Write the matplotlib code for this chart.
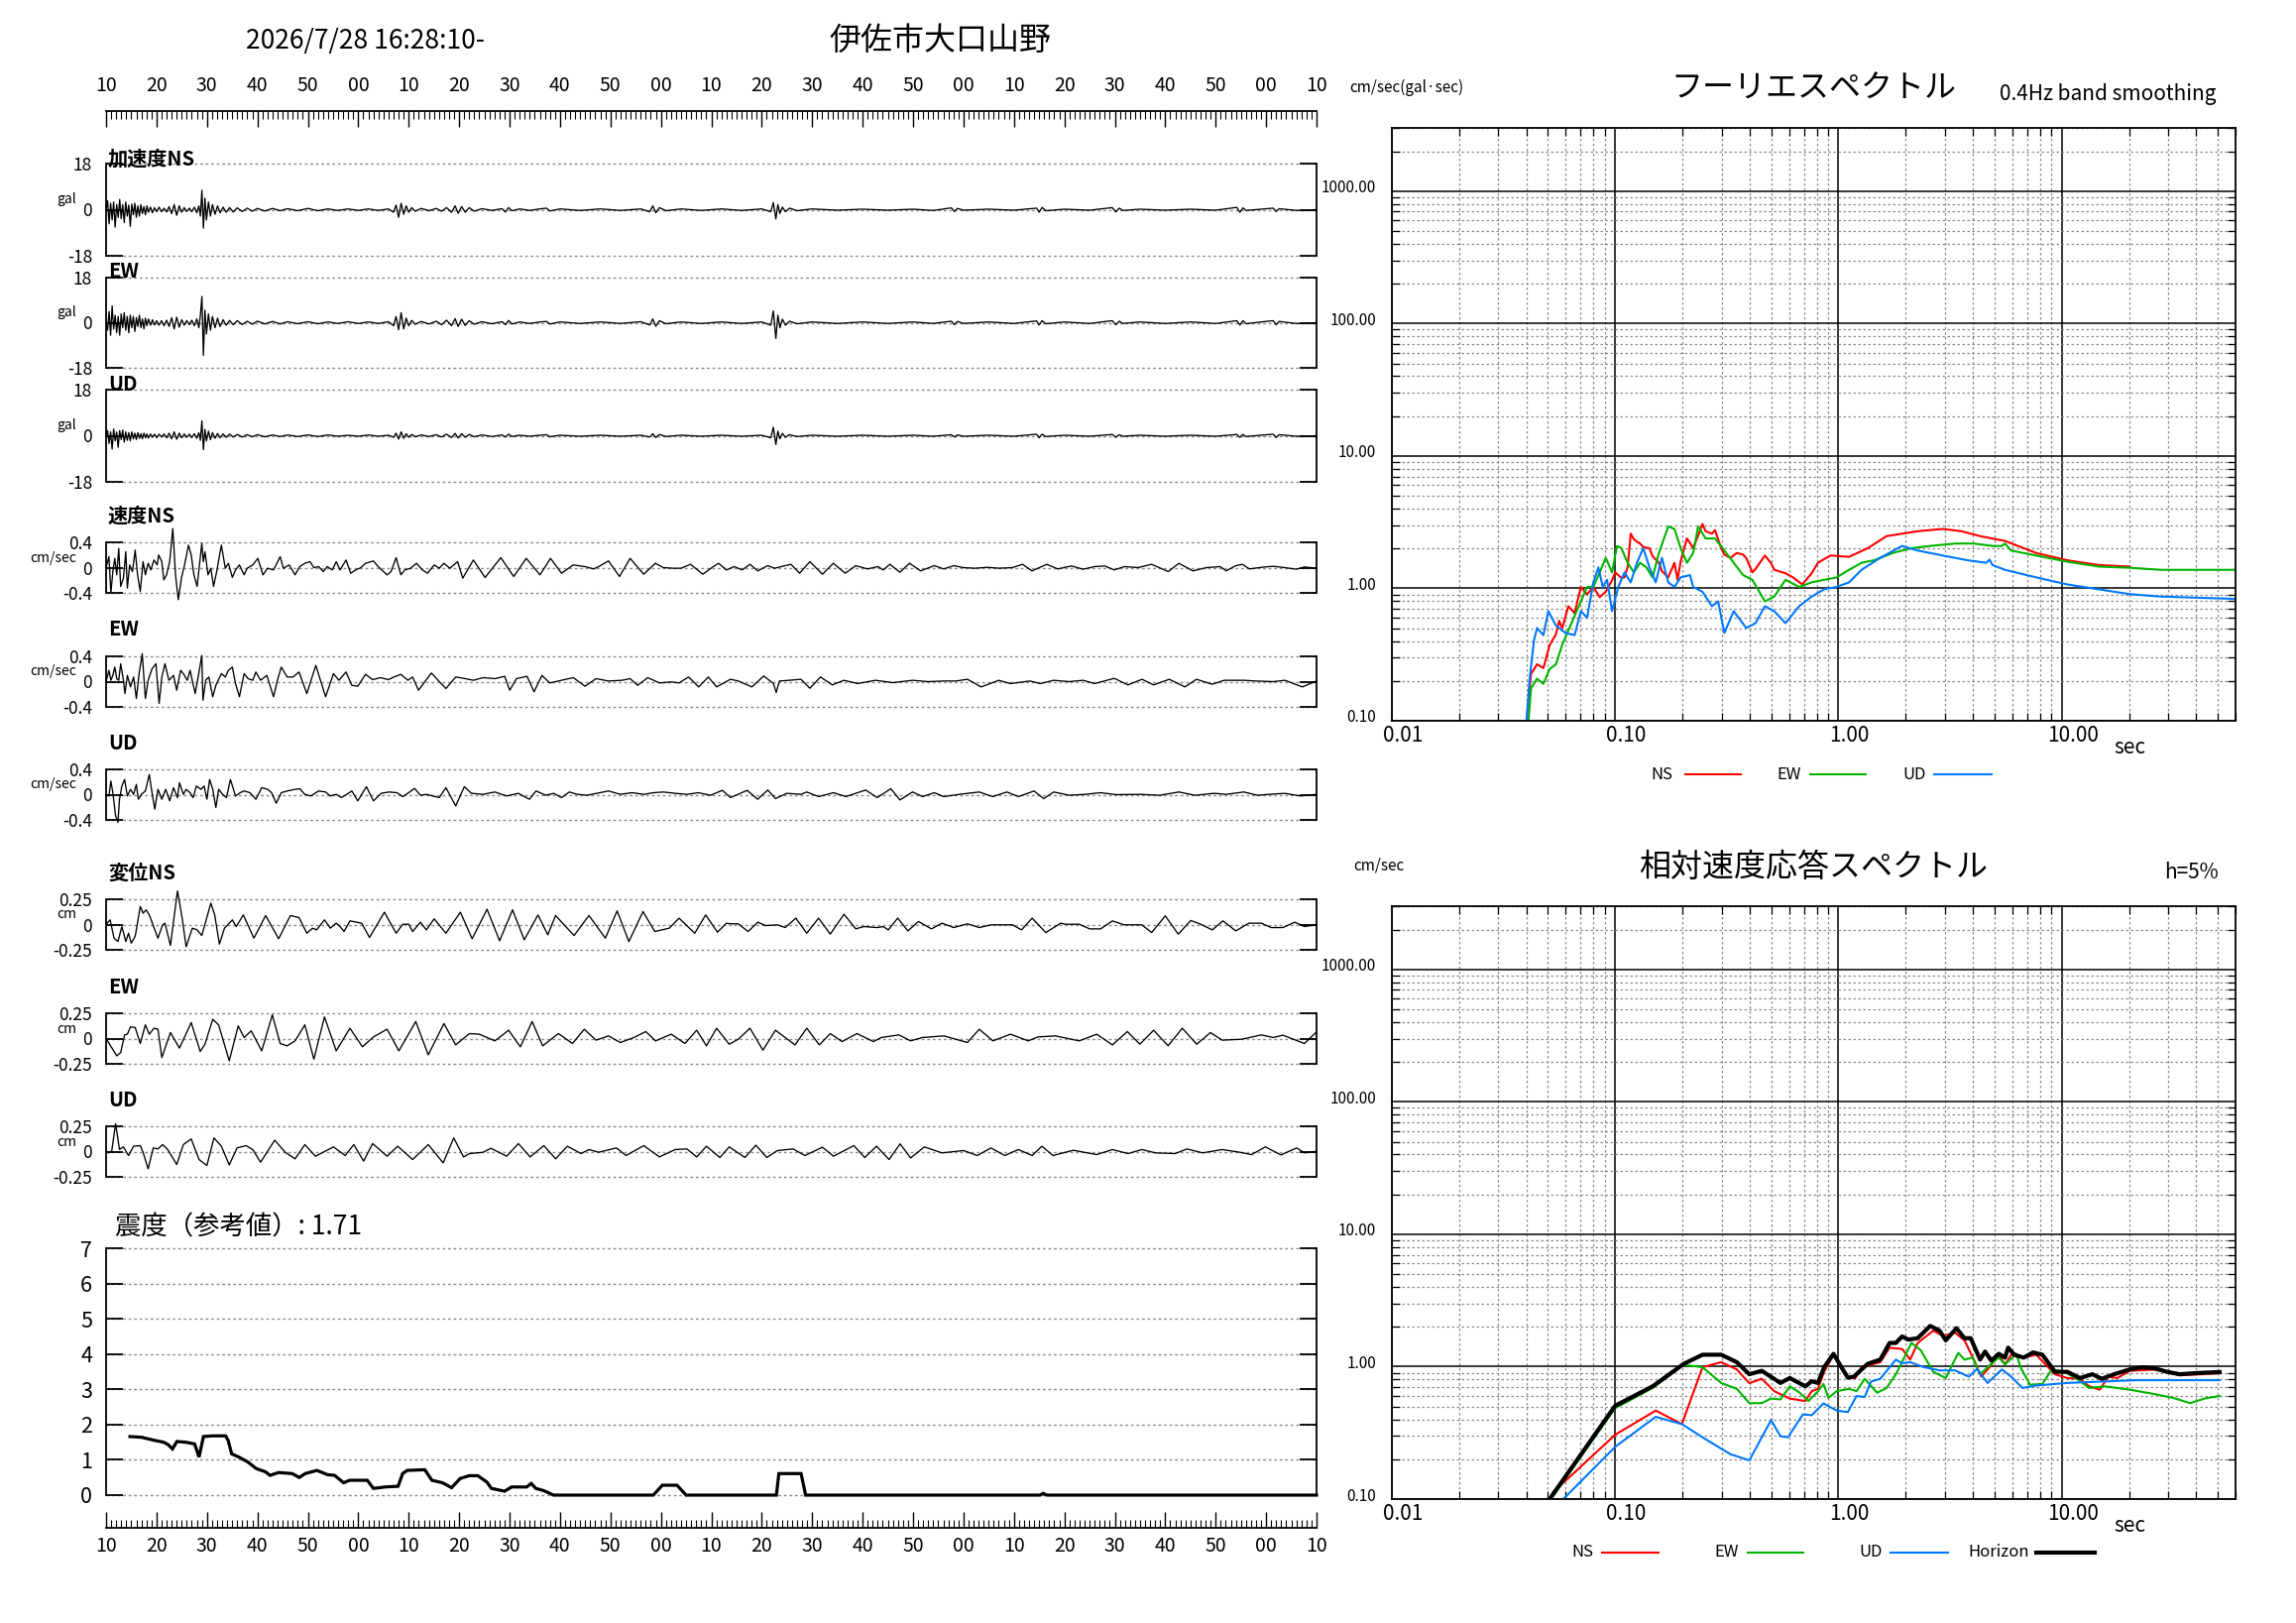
import numpy as np
import matplotlib
matplotlib.use("Agg")
import matplotlib.pyplot as plt
from matplotlib.lines import Line2D
from matplotlib.ticker import FixedLocator, LogLocator, NullFormatter
from matplotlib.transforms import ScaledTranslation

plt.rcParams['font.family'] = ['Noto Sans CJK JP', 'DejaVu Sans']

# ---------------- data ----------------
station = "伊佐市大口山野"
start_time = "2026/7/28 16:28:10-"
shindo_text = "震度（参考値）: 1.71"

# acceleration (gal), shared time base in seconds from 16:28:10
acc_t = [0.0, 0.3, 0.6, 0.9, 1.2, 1.5, 1.8, 2.1, 2.4, 2.7, 3.0, 3.3, 3.6, 3.9, 4.2, 4.5, 4.8, 5.1, 5.4, 5.7,
         6.0, 6.3, 6.6, 6.9, 7.2, 7.5, 7.8, 8.1, 8.4,
         8.8, 9.2, 9.6, 10.0,
         10.5, 11.0, 11.5, 12.0, 12.5, 13.0, 13.5, 14.0, 14.5, 15.0, 15.5, 16.0, 16.5, 17.0, 17.5, 18.0,
         18.4, 18.7, 19.0, 19.3, 19.6, 19.9,
         20.3, 20.7, 21.1, 21.6, 22.1, 22.6, 23.2, 23.8, 24.5, 25.2, 26.0,
         27.0, 28.0, 29.0, 30.0,
         31.5, 33.0, 34.5, 36.0,
         38.0, 40.0, 42.0, 44.0, 46.0, 48.0, 50.0, 52.0, 54.0, 56.0,
         57.0, 57.5, 58.0, 58.5, 59.0, 59.5, 60.0,
         60.6, 61.3, 62.5, 64.0, 65.5,
         66.5, 67.5, 68.5, 69.2, 69.8, 70.5, 71.2, 72.0, 73.0, 74.5,
         76.5, 78.5, 79.2, 79.8, 80.5, 82.0, 84.0, 86.0,
         87.3, 88.0, 90.0,
         94.0, 98.0, 102.0, 106.0,
         107.8, 108.4, 109.0, 109.7, 111.0,
         114.0, 118.0, 122.0, 126.0, 130.0,
         131.8, 132.3, 132.8, 133.2, 133.6, 134.1, 134.7, 135.5, 137.0,
         140.0, 145.0, 150.0, 155.0, 160.0, 164.0,
         167.6, 168.2, 168.8, 170.0,
         175.0, 180.0,
         184.5, 185.0, 185.6, 186.3,
         190.0, 195.0,
         199.5, 200.2, 200.9, 201.6,
         205.0, 210.0, 215.0, 220.0,
         224.2, 224.8, 225.4, 226.0,
         229.0,
         231.4, 232.0, 232.6,
         236.0, 240.0]

acc_ns = [0, 3.5, -5.5, 2.5, -4.0, 3.0, -6.8, 2.0, -3.0, 4.0, -3.5, 2.0, -5.0, 3.0, -2.5, 1.8, -6.5, 2.2, -2.0, 2.5,
          -3.0, 1.5, -2.5, 2.0, -1.5, 1.2, -2.0, 1.5, -1.0,
          1.0, -1.2, 0.8, -0.8,
          1.0, -0.8, 0.6, -0.9, 1.2, -1.5, 2.0, -2.2, 1.5, -1.0, 0.8, -0.7, 0.6, -0.8, 1.0, -1.2,
          1.5, -2.5, 7.6, -7.2, 4.5, -4.0,
          3.0, -2.5, 2.0, -1.8, 1.5, -1.2, 1.0, -1.0, 0.8, -0.9, 0.7,
          -0.7, 0.6, -0.6, 0.5,
          -0.5, 0.5, -0.4, 0.4,
          -0.4, 0.5, -0.4, 0.3, -0.3, 0.3, -0.3, 0.3, -0.3, 0.3,
          -1.0, 1.8, -3.0, 2.5, -1.8, 1.5, -1.0,
          0.8, -0.6, 0.5, -0.4, 0.5,
          -0.6, 0.8, -1.0, 1.5, -1.4, 1.2, -1.0, 0.8, -0.6, 0.4,
          -0.3, 0.4, -0.9, 0.8, -0.4, 0.3, -0.3, 0.3,
          0.6, -0.5, 0.3,
          -0.3, 0.3, -0.3, 0.3,
          -0.8, 1.5, -1.2, 0.8, -0.4,
          0.3, -0.3, 0.3, -0.3, 0.3,
          -0.8, 2.8, -3.6, 2.0, -1.5, 1.0, -0.8, 0.6, -0.4,
          0.3, -0.2, 0.2, -0.2, 0.2, -0.3,
          0.7, -0.7, 0.5, -0.2,
          0.2, -0.2,
          0.6, -1.0, 0.9, -0.4,
          0.2, -0.2,
          0.8, -0.9, 0.6, -0.3,
          0.2, -0.2, 0.2, -0.2,
          0.9, -1.0, 0.7, -0.3,
          0.2,
          0.6, -0.7, 0.4,
          -0.3, 0.0]

acc_ew = [0, -3.0, 4.5, -5.0, 6.7, -2.5, 3.0, -4.0, 2.5, -5.0, 3.5, -2.0, 4.0, -3.0, 2.5, -4.0, 3.0, -2.0, 2.5, -3.5,
          2.0, -1.5, 3.0, -2.0, 1.5, -2.5, 1.8, -1.2, 1.5,
          -1.0, 1.2, -0.9, 0.8,
          -1.0, 0.8, -1.2, 1.0, -1.5, 2.0, -2.5, 2.2, -1.8, 1.2, -1.0, 0.9, -0.8, 1.0, -1.2, 1.5,
          -2.0, 3.0, 10.5, -13.0, 5.0, -4.5,
          3.5, -3.0, 2.5, -2.0, 1.8, -1.5, 1.2, -1.0, 0.9, -0.8, 0.8,
          -0.7, 0.6, -0.6, 0.6,
          -0.5, 0.5, -0.5, 0.4,
          -0.4, 0.4, -0.4, 0.3, -0.3, 0.4, -0.3, 0.3, -0.3, 0.4,
          -1.2, 2.5, -2.8, 4.0, -2.5, 1.8, -1.2,
          0.9, -0.6, 0.5, -0.5, 0.6,
          -0.8, 1.0, -1.2, 1.6, -1.5, 1.4, -1.1, 0.8, -0.6, 0.4,
          -0.4, 0.4, -0.8, 0.9, -0.5, 0.3, -0.3, 0.3,
          0.5, -0.5, 0.3,
          -0.3, 0.3, -0.3, 0.4,
          -0.9, 1.5, -1.4, 0.8, -0.4,
          0.3, -0.3, 0.3, -0.3, 0.3,
          -1.0, 4.7, -6.3, 3.0, -2.0, 1.4, -1.0, 0.6, -0.4,
          0.3, -0.3, 0.3, -0.3, 0.3, -0.3,
          0.6, -0.8, 0.5, -0.3,
          0.3, -0.3,
          0.7, -0.9, 0.8, -0.4,
          0.3, -0.3,
          0.8, -0.8, 0.6, -0.3,
          0.3, -0.3, 0.3, -0.3,
          0.8, -0.9, 0.8, -0.4,
          0.3,
          0.8, -0.8, 0.5,
          -0.3, 0.0]

acc_ud = [0, 2.0, -3.0, 1.5, -5.2, 2.6, -2.0, 1.5, -4.5, 2.0, -1.5, 2.2, -2.5, 1.5, -1.8, 1.2, -2.0, 1.5, -1.2, 1.0,
          -1.5, 1.2, -1.0, 0.8, -1.2, 1.0, -0.8, 0.7, -0.9,
          0.7, -0.6, 0.6, -0.7,
          0.6, -0.5, 0.7, -0.8, 1.0, -1.2, 1.5, -1.4, 1.0, -0.8, 0.7, -0.6, 0.6, -0.7, 0.8, -1.0,
          1.2, -1.8, 5.8, -5.4, 2.5, -2.0,
          1.8, -1.5, 1.2, -1.0, 0.9, -0.8, 0.7, -0.6, 0.6, -0.5, 0.5,
          -0.5, 0.4, -0.4, 0.4,
          -0.4, 0.3, -0.3, 0.3,
          -0.3, 0.3, -0.3, 0.3, -0.2, 0.2, -0.2, 0.3, -0.2, 0.2,
          -0.6, 1.0, -1.3, 1.5, -1.0, 0.8, -0.6,
          0.5, -0.4, 0.3, -0.3, 0.4,
          -0.5, 0.6, -0.7, 0.9, -0.9, 0.8, -0.6, 0.5, -0.4, 0.3,
          -0.3, 0.3, -0.5, 0.6, -0.3, 0.2, -0.2, 0.2,
          0.4, -0.4, 0.2,
          -0.2, 0.2, -0.2, 0.2,
          -0.5, 0.8, -0.7, 0.5, -0.3,
          0.2, -0.2, 0.2, -0.2, 0.2,
          -0.8, 3.3, -3.4, 1.8, -1.2, 0.9, -0.6, 0.4, -0.3,
          0.2, -0.2, 0.2, -0.2, 0.2, -0.2,
          0.4, -0.5, 0.3, -0.2,
          0.2, -0.2,
          0.6, -0.8, 0.6, -0.3,
          0.2, -0.2,
          0.5, -0.6, 0.4, -0.2,
          0.2, -0.2, 0.2, -0.2,
          0.5, -0.6, 0.5, -0.3,
          0.2,
          0.6, -0.7, 0.4,
          -0.2, 0.0]

# velocity (cm/sec): (seconds, value)
vel_ns = [(0.0, 0.0), (0.57, 0.173), (0.95, -0.403), (1.34, -0.063), (1.73, 0.146), (2.12, -0.115), (2.51, 0.303),
          (2.9, -0.298), (3.44, -0.167), (3.91, 0.251), (4.22, -0.324), (4.68, 0.042), (5.23, -0.063), (5.77, 0.277),
          (6.24, -0.115), (6.78, -0.377), (7.33, 0.094), (7.79, -0.115), (8.34, 0.068), (8.88, -0.037), (9.5, 0.12),
          (10.12, 0.042), (10.43, 0.199), (11.05, 0.094), (11.44, -0.194), (11.99, -0.115), (12.61, 0.094),
          (13.23, 0.617), (13.77, -0.115), (14.32, -0.507), (14.94, -0.167), (15.56, 0.042), (16.34, 0.356),
          (16.88, 0.199), (17.42, -0.115), (18.05, -0.298), (18.67, 0.146), (18.98, 0.382), (19.29, 0.094),
          (19.6, 0.251), (20.22, -0.115), (20.77, -0.01), (21.31, -0.298), (21.93, -0.063), (22.86, 0.356),
          (23.64, -0.01), (24.26, 0.068), (25.04, -0.157), (25.66, -0.037), (26.44, 0.042), (27.37, -0.115),
          (27.99, -0.01), (29.08, 0.042), (30.09, 0.146), (31.1, -0.115), (32.03, -0.01), (33.2, -0.037),
          (34.52, 0.173), (35.14, -0.01), (36.3, 0.042), (37.47, -0.115), (38.4, 0.016), (39.41, 0.068),
          (40.42, 0.094), (41.2, 0.0), (42.13, 0.016), (43.06, -0.063), (43.84, 0.016), (44.85, -0.037),
          (45.63, 0.094), (46.4, -0.037), (47.57, 0.12), (48.5, -0.089), (49.51, -0.037), (50.52, 0.0),
          (51.45, 0.068), (53.0, 0.105), (53.94, 0.016), (55.72, -0.115), (56.5, -0.063), (57.51, 0.157),
          (58.45, -0.115), (59.22, -0.037), (60.39, -0.01), (61.55, 0.068), (62.72, -0.037), (63.73, -0.089),
          (65.05, 0.042), (66.06, -0.01), (66.99, 0.068), (68.16, -0.01), (68.93, 0.042), (69.71, 0.094),
          (70.72, -0.167), (72.82, 0.12), (75.15, -0.157), (78.26, 0.157), (80.82, -0.141), (83.31, 0.146),
          (86.03, -0.115), (88.12, 0.146), (90.3, -0.089), (92.63, 0.042), (94.96, 0.016), (96.67, -0.021),
          (97.68, 0.016), (99.62, 0.105), (101.8, -0.141), (103.9, 0.146), (106.6, -0.105), (108.9, 0.068),
          (110.5, 0.0), (112.4, -0.01), (114.0, -0.01), (115.9, 0.052), (118.3, -0.105), (120.4, 0.016),
          (121.45, 0.068), (123.0, -0.037), (124.56, 0.016), (126.1, -0.037), (127.67, 0.052), (129.22, -0.052),
          (131.16, 0.031), (132.56, -0.01), (133.88, 0.016), (135.8, 0.052), (137.5, -0.089), (139.55, 0.094),
          (142.04, -0.105), (144.2, 0.068), (146.55, -0.089), (148.64, 0.031), (150.97, -0.021), (153.07, 0.016),
          (154.08, -0.037), (155.4, 0.052), (157.4, -0.073), (159.3, 0.068), (161.5, -0.052), (164.2, 0.031),
          (166.1, -0.021), (168.1, 0.031), (170.0, 0.0), (172.3, -0.01), (174.7, 0.005), (177.0, -0.01),
          (179.7, 0.0), (181.7, 0.052), (183.6, -0.052), (186.5, 0.052), (188.7, -0.021), (191.4, 0.026),
          (193.7, -0.026), (196.0, 0.016), (198.0, 0.026), (199.9, -0.037), (201.9, 0.016), (204.6, 0.0),
          (207.3, 0.052), (210.6, -0.063), (212.7, 0.068), (215.5, -0.052), (218.2, 0.0), (220.9, 0.016),
          (222.1, -0.052), (224.0, 0.031), (225.3, 0.052), (226.7, -0.021), (229.1, 0.005), (231.4, 0.021),
          (233.7, 0.0), (236.0, -0.026), (237.6, 0.01), (240.0, -0.01)]

vel_ew = [(0.0, 0.0), (0.57, 0.178), (0.95, 0.021), (1.34, 0.099), (1.73, 0.23), (2.12, 0.047), (2.51, 0.021),
          (2.9, 0.282), (3.44, 0.021), (3.75, -0.188), (4.22, 0.099), (4.84, -0.084), (5.46, 0.073), (6.0, -0.267),
          (6.55, 0.126), (7.17, 0.44), (7.79, -0.267), (8.34, 0.021), (9.11, 0.204), (9.89, 0.282), (10.51, -0.345),
          (11.05, 0.073), (11.68, 0.282), (12.45, 0.021), (13.38, 0.099), (14.0, -0.136), (14.78, 0.178),
          (15.33, 0.126), (16.1, 0.021), (16.65, 0.178), (17.66, -0.188), (18.2, 0.047), (18.98, 0.413),
          (19.21, -0.293), (19.75, 0.021), (20.38, 0.073), (21.15, -0.24), (21.77, -0.058), (22.86, 0.126),
          (23.64, 0.073), (24.26, 0.178), (25.04, 0.23), (25.66, -0.031), (26.44, -0.24), (27.37, 0.126),
          (28.15, 0.047), (29.08, 0.021), (29.7, 0.152), (30.63, 0.021), (31.88, 0.099), (33.2, -0.24),
          (33.97, 0.021), (34.75, 0.23), (35.91, 0.073), (37.08, 0.073), (38.25, 0.152), (39.8, -0.188),
          (41.59, 0.256), (43.53, -0.24), (45.08, 0.126), (46.17, 0.021), (47.57, 0.152), (48.73, -0.058),
          (49.9, -0.073), (51.45, 0.115), (52.85, 0.031), (54.4, 0.063), (55.96, 0.031), (57.05, 0.073),
          (58.45, 0.115), (59.84, 0.021), (60.78, 0.073), (61.94, -0.136), (64.5, 0.136), (65.83, 0.021),
          (67.38, -0.11), (69.32, 0.073), (71.26, 0.047), (72.82, 0.021), (74.76, 0.063), (77.09, 0.047),
          (79.03, 0.084), (80.04, -0.136), (81.36, 0.047), (83.46, 0.084), (84.86, -0.162), (86.41, 0.099),
          (87.97, -0.021), (90.3, 0.021), (92.63, 0.063), (94.96, -0.073), (97.14, 0.047), (99.62, 0.01),
          (102.3, 0.021), (103.9, 0.047), (105.4, -0.058), (107.4, 0.063), (109.7, -0.021), (112.1, -0.005),
          (113.6, -0.021), (115.5, 0.073), (117.5, -0.084), (119.4, 0.073), (121.06, -0.084), (123.78, 0.037),
          (125.34, 0.01), (128.05, -0.084), (130.39, 0.089), (132.33, -0.031), (132.87, -0.173), (133.5, 0.01),
          (135.44, 0.021), (137.77, 0.037), (139.55, -0.105), (141.65, 0.073), (143.98, -0.052), (146.31, 0.021),
          (149.03, -0.031), (152.53, 0.021), (156.0, -0.016), (159.9, 0.021), (163.0, 0.0), (166.1, 0.01),
          (168.5, 0.01), (170.8, 0.037), (173.5, -0.084), (177.0, 0.021), (179.3, -0.031), (183.2, 0.01),
          (185.2, -0.031), (187.9, 0.021), (191.0, 0.0), (193.7, 0.021), (196.0, -0.031), (199.9, 0.052),
          (202.6, -0.052), (205.4, 0.037), (207.7, -0.052), (210.8, 0.037), (213.9, -0.084), (216.2, 0.037),
          (219.3, -0.042), (221.7, 0.021), (225.6, 0.021), (227.9, 0.01), (231.4, 0.0), (233.7, 0.021),
          (237.2, -0.084), (240.0, 0.01)]

vel_ud = [(0.0, 0.0), (0.57, -0.021), (0.95, 0.214), (1.34, 0.031), (1.89, -0.335), (2.35, -0.44), (2.66, -0.073),
          (3.13, 0.136), (3.67, 0.24), (4.22, -0.021), (4.84, 0.084), (5.46, 0.005), (6.0, 0.162), (6.39, -0.073),
          (7.01, 0.005), (7.79, 0.058), (8.57, 0.319), (9.11, 0.031), (9.66, -0.23), (10.28, 0.084), (11.05, -0.073),
          (11.83, 0.084), (12.61, -0.099), (13.38, 0.11), (14.16, -0.047), (14.55, 0.188), (15.33, 0.005),
          (15.87, 0.084), (16.65, 0.031), (17.27, -0.047), (17.89, 0.136), (18.82, 0.084), (19.44, 0.136),
          (19.99, -0.073), (20.53, 0.24), (21.15, 0.084), (21.77, -0.204), (22.32, 0.084), (23.1, 0.005),
          (23.87, -0.047), (24.65, 0.24), (25.66, -0.021), (26.59, 0.031), (27.37, 0.058), (28.53, 0.031),
          (29.7, -0.073), (30.86, 0.11), (32.03, 0.084), (32.81, 0.031), (33.74, -0.136), (34.75, 0.031),
          (35.91, 0.058), (37.47, 0.084), (38.4, 0.094), (39.41, 0.005), (40.58, -0.021), (42.13, 0.058),
          (43.53, 0.042), (44.46, -0.021), (45.63, 0.005), (46.64, -0.047), (47.72, 0.005), (48.73, 0.058),
          (49.9, -0.099), (51.61, 0.126), (53.01, -0.099), (54.56, 0.021), (56.11, 0.042), (57.67, 0.031),
          (58.83, -0.031), (60.0, 0.031), (61.16, 0.099), (62.33, -0.01), (63.49, 0.005), (64.82, -0.021),
          (66.06, -0.047), (67.38, 0.11), (69.32, -0.178), (71.03, 0.126), (72.43, 0.021), (74.76, 0.005),
          (77.09, 0.042), (79.42, -0.021), (81.75, 0.021), (83.93, -0.073), (85.25, 0.058), (87.19, -0.01),
          (88.75, 0.021), (90.3, -0.047), (91.85, 0.042), (93.41, 0.005), (95.35, -0.01), (97.29, 0.021),
          (99.62, 0.058), (101.95, 0.005), (104.28, 0.031), (106.61, 0.005), (108.56, 0.031), (110.5, 0.042),
          (112.83, 0.021), (115.16, 0.005), (117.49, 0.031), (119.82, -0.01), (122.2, 0.068), (123.8, -0.047),
          (127.1, 0.068), (129.2, -0.073), (131.2, 0.073), (132.7, -0.063), (135.0, 0.021), (137.8, 0.005),
          (138.9, 0.042), (141.3, -0.031), (144.2, 0.031), (146.7, -0.031), (150.6, 0.073), (152.9, -0.047),
          (155.6, 0.094), (157.4, -0.084), (159.9, 0.042), (161.9, -0.031), (164.2, 0.031), (166.1, -0.031),
          (169.2, 0.005), (173.1, 0.042), (175.8, -0.031), (178.6, 0.042), (180.9, -0.031), (184.0, 0.058),
          (185.9, -0.063), (187.9, 0.042), (191.0, -0.01), (194.1, 0.005), (197.2, 0.031), (200.3, 0.0),
          (205.0, 0.005), (208.9, -0.01), (212.7, 0.042), (215.9, -0.01), (219.7, 0.021), (222.1, 0.005),
          (225.6, 0.042), (228.3, -0.01), (230.6, 0.005), (233.7, 0.021), (236.8, -0.021), (239.9, 0.005)]

# displacement (cm): (seconds, value)
disp_ns = [(0.0, 0.0), (0.8, 0.046), (1.58, -0.135), (2.35, -0.168), (3.13, -0.02), (3.91, -0.168), (4.45, -0.086),
           (4.99, -0.184), (5.77, -0.118), (6.78, 0.178), (7.33, 0.112), (7.95, 0.145), (8.57, 0.095),
           (10.28, -0.135), (11.21, -0.003), (11.68, 0.013), (12.76, -0.207), (14.16, 0.332), (15.09, 0.063),
           (15.87, -0.22), (17.11, -0.036), (18.05, -0.053), (18.98, -0.109), (20.77, 0.211), (21.54, 0.095),
           (22.47, -0.194), (23.48, -0.036), (25.04, 0.046), (25.81, -0.02), (27.21, 0.095), (29.31, -0.135),
           (31.64, 0.089), (34.21, -0.141), (36.54, 0.089), (38.25, 0.069), (39.8, -0.086), (40.96, -0.036),
           (41.74, -0.053), (43.3, 0.046), (44.46, -0.036), (45.63, 0.013), (46.4, -0.02), (47.18, -0.069),
           (48.35, 0.036), (50.68, 0.013), (52.23, -0.128), (55.18, 0.122), (57.51, -0.086), (58.83, 0.003),
           (60.0, 0.003), (60.78, -0.069), (62.33, 0.023), (63.49, -0.053), (65.05, 0.056), (67.38, -0.086),
           (70.25, 0.122), (72.58, -0.141), (75.54, 0.151), (78.02, -0.161), (80.59, 0.145), (82.92, -0.151),
           (85.64, 0.095), (87.58, -0.102), (89.13, 0.089), (92.79, -0.109), (95.74, 0.089), (98.99, -0.135),
           (101.33, 0.135), (103.66, -0.168), (106.46, 0.128), (108.79, -0.069), (111.66, -0.036), (113.61, 0.063),
           (116.71, -0.086), (118.89, 0.095), (121.22, -0.076), (123.0, 0.013), (123.78, 0.007), (125.34, 0.007),
           (127.28, -0.069), (129.22, 0.023), (130.78, -0.01), (133.1, -0.003), (134.66, -0.03), (136.76, 0.063),
           (138.93, -0.086), (141.26, 0.063), (143.59, -0.095), (146.31, 0.102), (148.64, -0.043), (150.2, -0.02),
           (152.92, -0.03), (154.08, -0.02), (155.09, -0.053), (156.96, 0.063), (158.98, -0.063), (161.07, 0.03),
           (163.64, -0.043), (165.74, 0.013), (168.07, -0.03), (170.79, 0.007), (173.12, -0.03), (175.45, -0.003),
           (179.72, -0.003), (181.51, -0.053), (183.6, 0.063), (186.32, -0.079), (189.28, 0.013), (190.21, 0.003),
           (192.93, 0.003), (195.02, -0.043), (197.2, -0.043), (199.53, 0.036), (201.86, -0.003), (205.36, -0.003),
           (207.3, -0.079), (210.02, 0.086), (212.58, -0.095), (215.07, 0.04), (217.01, 0.003), (219.34, -0.053),
           (221.44, 0.036), (224.0, -0.063), (226.57, 0.013), (229.05, 0.013), (231.0, -0.03), (233.33, -0.03),
           (235.66, 0.023), (237.6, -0.02), (240.0, -0.003)]

disp_ew = [(0.0, 0.0), (2.12, -0.171), (2.9, -0.138), (3.67, 0.036), (4.22, 0.043), (4.84, 0.115), (5.77, 0.109),
           (6.78, -0.049), (7.79, 0.135), (8.57, 0.043), (9.5, 0.102), (10.28, 0.092), (11.05, -0.188),
           (12.76, 0.059), (14.55, -0.095), (16.88, 0.158), (18.67, -0.128), (19.6, -0.056), (21.15, 0.191),
           (22.32, 0.135), (24.42, -0.22), (26.2, 0.125), (27.37, 0.01), (28.77, 0.076), (30.86, -0.122),
           (32.96, 0.234), (34.52, -0.049), (35.91, -0.072), (37.47, -0.023), (39.41, 0.135), (41.2, -0.204),
           (43.3, 0.214), (45.63, -0.122), (48.35, 0.102), (50.83, -0.082), (53.01, 0.016), (55.72, 0.092),
           (58.06, -0.122), (61.4, 0.168), (63.88, -0.161), (66.99, 0.148), (69.32, -0.063), (72.04, 0.049),
           (73.98, 0.043), (77.09, -0.023), (79.81, 0.082), (82.14, -0.082), (84.47, 0.168), (86.57, -0.072),
           (89.68, 0.049), (92.47, -0.049), (94.81, 0.092), (97.14, -0.016), (99.62, 0.026), (101.95, -0.039),
           (104.67, 0.01), (107.0, 0.069), (108.94, -0.023), (112.05, 0.043), (114.77, -0.049), (117.1, 0.082),
           (119.04, -0.072), (121.06, 0.102), (123.55, -0.056), (125.34, -0.007), (127.67, 0.102),
           (130.23, -0.115), (132.72, 0.082), (136.6, -0.063), (138.93, 0.102), (141.42, -0.063), (143.59, 0.049),
           (145.93, -0.03), (148.88, 0.049), (152.14, -0.03), (153.7, 0.01), (157.19, 0.036), (159.52, -0.023),
           (161.85, 0.01), (166.13, 0.026), (170.79, -0.039), (173.12, 0.092), (175.84, -0.023), (179.33, 0.043),
           (182.83, -0.023), (184.77, 0.016), (188.27, 0.026), (192.93, -0.023), (196.43, 0.043), (199.53, -0.063),
           (202.49, 0.069), (204.97, -0.056), (207.7, 0.082), (210.57, -0.072), (213.37, 0.102), (216.24, -0.056),
           (218.96, 0.059), (221.29, -0.016), (225.18, -0.007), (229.06, 0.036), (231.4, 0.01), (233.33, 0.033),
           (237.6, -0.049), (240.0, 0.066)]

disp_ud = [(0.0, 0.0), (0.57, -0.013), (1.11, 0.003), (1.89, 0.276), (2.66, 0.02), (3.44, 0.046), (4.45, -0.039),
           (5.46, 0.053), (6.78, 0.059), (7.33, -0.007), (8.34, -0.171), (9.35, 0.036), (10.28, 0.026),
           (11.21, 0.069), (12.22, 0.02), (14.01, -0.128), (15.33, 0.069), (16.88, 0.125), (18.43, -0.079),
           (19.99, -0.138), (21.39, 0.135), (22.86, 0.053), (24.42, -0.132), (25.97, 0.036), (27.76, 0.059),
           (29.08, 0.02), (30.63, -0.105), (33.43, 0.112), (35.53, -0.007), (37.47, -0.072), (39.41, 0.069),
           (41.51, -0.046), (45.08, 0.046), (47.41, -0.039), (49.12, 0.069), (51.07, -0.095), (52.85, 0.079),
           (55.72, -0.046), (57.82, 0.053), (60.78, -0.079), (63.88, 0.069), (66.84, -0.112), (68.93, 0.135),
           (70.88, -0.053), (72.04, -0.02), (74.76, -0.007), (76.31, 0.033), (79.42, -0.046), (81.75, 0.079),
           (84.08, -0.053), (86.8, 0.059), (89.13, -0.072), (91.46, 0.053), (94.18, -0.02), (95.74, 0.02),
           (97.68, -0.007), (101.17, 0.036), (103.12, -0.039), (106.61, 0.059), (109.72, -0.053), (112.83, 0.02),
           (115.16, 0.026), (117.1, -0.053), (119.04, 0.053), (121.69, -0.059), (123.55, 0.046), (126.66, -0.059),
           (128.83, 0.063), (131.01, -0.059), (133.11, 0.01), (136.22, 0.026), (138.55, -0.039), (142.04, 0.043),
           (144.22, -0.046), (148.26, 0.059), (150.43, -0.059), (152.76, 0.053), (155.25, -0.079), (157.43, 0.076),
           (159.52, -0.063), (162.24, 0.046), (165.74, -0.013), (170.01, 0.01), (172.73, -0.039), (175.45, 0.036),
           (178.17, -0.039), (180.89, 0.02), (183.6, -0.039), (185.55, 0.053), (187.73, -0.039), (191.77, 0.013),
           (196.43, -0.03), (199.53, 0.02), (202.64, -0.02), (205.36, 0.02), (208.08, -0.013), (211.97, -0.02),
           (214.3, 0.026), (217.4, -0.013), (221.29, 0.02), (224.79, -0.007), (227.12, -0.03), (229.84, 0.046),
           (232.95, -0.033), (236.06, 0.036), (237.6, -0.013), (240.0, 0.003)]

# seismic intensity (seconds, value)
shindo = [(4.74, 1.66), (7.02, 1.64), (9.66, 1.55), (11.41, 1.50), (12.29, 1.43), (13.17, 1.31), (14.05, 1.52),
          (15.8, 1.50), (17.56, 1.45), (18.43, 1.08), (19.31, 1.66), (21.07, 1.68), (23.7, 1.68), (24.2, 1.55),
          (24.9, 1.17), (26.3, 1.08), (28.1, 0.94), (29.8, 0.75), (31.6, 0.66), (32.5, 0.56), (34.2, 0.64),
          (36.9, 0.61), (38.3, 0.50), (39.5, 0.61), (41.8, 0.70), (43.9, 0.58), (45.3, 0.56), (47.1, 0.35),
          (48.3, 0.42), (51.8, 0.42), (53.0, 0.19), (55.3, 0.23), (57.9, 0.25), (58.8, 0.61), (59.7, 0.70),
          (63.2, 0.72), (64.6, 0.42), (66.7, 0.35), (68.5, 0.21), (70.2, 0.47), (72.0, 0.55), (73.7, 0.55),
          (75.5, 0.37), (76.4, 0.19), (79.0, 0.11), (80.4, 0.23), (83.4, 0.23), (84.3, 0.33), (85.2, 0.19),
          (86.9, 0.12), (88.7, 0.0), (108.5, 0.0), (110.3, 0.28), (113.2, 0.28), (115.0, 0.0), (132.9, 0.0),
          (133.4, 0.61), (137.8, 0.61), (138.7, 0.0), (185.2, 0.0), (185.8, 0.05), (186.5, 0.0), (240.0, 0.0)]

# Fourier spectrum (period sec, cm/sec)
fourier_ns = [(0.0401, 0.1), (0.0420, 0.226), (0.0447, 0.267), (0.0477, 0.25), (0.0509, 0.374), (0.0543, 0.45),
              (0.0561, 0.569), (0.0579, 0.50), (0.0617, 0.733), (0.0658, 0.65), (0.0702, 1.025), (0.0749, 0.90),
              (0.0798, 1.025), (0.0852, 0.86), (0.0908, 0.942), (0.0968, 1.15), (0.100, 1.32), (0.1066, 1.20),
              (0.1101, 1.21), (0.1137, 1.45), (0.1174, 2.59), (0.1213, 2.35), (0.1252, 2.25), (0.1293, 2.18),
              (0.1336, 2.05), (0.1424, 2.01), (0.1471, 1.75), (0.1569, 1.56), (0.1620, 1.35), (0.1728, 1.21),
              (0.1843, 1.56), (0.1903, 1.16), (0.1965, 1.60), (0.2096, 2.38), (0.2164, 2.2), (0.2235, 2.01),
              (0.2352, 2.5), (0.2461, 3.06), (0.2541, 2.7), (0.2710, 2.59), (0.2799, 2.75), (0.2985, 2.01),
              (0.3083, 1.8), (0.3288, 1.70), (0.3506, 1.85), (0.3738, 1.80), (0.3861, 1.70), (0.4116, 1.32),
              (0.4250, 1.40), (0.4682, 1.77), (0.4992, 1.55), (0.5156, 1.38), (0.5790, 1.30), (0.6254, 1.21),
              (0.6887, 1.07), (0.7585, 1.30), (0.8089, 1.56), (0.9199, 1.77), (1.1155, 1.73), (1.3528, 2.01),
              (1.641, 2.48), (2.263, 2.70), (2.928, 2.81), (3.551, 2.70), (4.307, 2.48), (5.569, 2.28),
              (7.68, 1.85), (10.59, 1.63), (14.62, 1.50), (20.16, 1.46)]

fourier_ew = [(0.0409, 0.1), (0.0420, 0.176), (0.0447, 0.208), (0.0477, 0.19), (0.0509, 0.246), (0.0543, 0.267),
              (0.0579, 0.374), (0.0617, 0.481), (0.0658, 0.619), (0.0702, 0.797), (0.0749, 1.025), (0.0798, 1.025),
              (0.0852, 1.32), (0.0908, 1.70), (0.0968, 1.32), (0.1019, 2.09), (0.1066, 2.01), (0.1137, 1.56),
              (0.1213, 1.32), (0.1293, 1.56), (0.1379, 1.44), (0.1471, 1.21), (0.1569, 1.85), (0.1728, 2.93),
              (0.1843, 2.81), (0.1965, 2.01), (0.2096, 1.56), (0.2235, 1.85), (0.2352, 2.93), (0.2541, 2.38),
              (0.2799, 2.38), (0.3083, 1.93), (0.3395, 1.56), (0.3738, 1.26), (0.4116, 1.16), (0.4682, 0.797),
              (0.5156, 0.867), (0.5790, 1.16), (0.6668, 1.025), (0.7585, 1.11), (0.8627, 1.16), (0.9809, 1.21),
              (1.1155, 1.38), (1.2686, 1.56), (1.4426, 1.63), (1.750, 1.85), (2.122, 2.01), (2.574, 2.09),
              (3.330, 2.18), (4.038, 2.18), (4.897, 2.09), (5.393, 2.09), (5.569, 2.18), (5.938, 1.93),
              (7.68, 1.77), (10.59, 1.59), (14.62, 1.46), (20.16, 1.43), (27.81, 1.38), (60.5, 1.38)]

fourier_ud = [(0.0401, 0.1), (0.0414, 0.208), (0.0433, 0.407), (0.0447, 0.502), (0.0477, 0.443), (0.0502, 0.673),
              (0.0543, 0.524), (0.0598, 0.461), (0.0658, 0.443), (0.0702, 0.673), (0.0749, 0.60), (0.0798, 1.11),
              (0.0841, 1.44), (0.0880, 1.025), (0.0920, 1.16), (0.0968, 0.673), (0.1033, 1.025), (0.1101, 1.32),
              (0.1174, 1.11), (0.1252, 1.56), (0.1336, 2.01), (0.1424, 1.44), (0.1519, 1.11), (0.1620, 1.70),
              (0.1728, 1.11), (0.1843, 1.025), (0.1965, 1.21), (0.2164, 1.26), (0.2235, 1.025), (0.2461, 0.942),
              (0.2710, 0.733), (0.2891, 0.797), (0.3083, 0.461), (0.3395, 0.673), (0.3861, 0.502), (0.4250, 0.546),
              (0.4682, 0.733), (0.5156, 0.673), (0.5790, 0.546), (0.6668, 0.733), (0.7585, 0.867), (0.8627, 0.984),
              (0.9809, 1.025), (1.1155, 1.11), (1.2686, 1.38), (1.539, 1.70), (1.927, 2.09), (2.263, 1.93),
              (2.928, 1.77), (3.787, 1.63), (4.592, 1.56), (4.743, 1.65), (4.897, 1.50), (5.569, 1.38),
              (7.68, 1.21), (10.59, 1.07), (14.62, 0.984), (20.16, 0.904), (27.81, 0.867), (60.5, 0.832)]

# relative velocity response spectrum h=5% (period sec, cm/sec)
resp_ns = [(0.0526, 0.112), (0.100, 0.306), (0.1519, 0.466), (0.1990, 0.368), (0.2461, 0.99), (0.2985, 1.08),
           (0.3506, 0.953), (0.3988, 0.75), (0.4533, 0.81), (0.5156, 0.653), (0.6053, 0.574), (0.7112, 0.55),
           (0.7585, 0.653), (0.8089, 0.68), (0.8627, 0.914), (0.9500, 1.23), (1.013, 1.04), (1.101, 0.826),
           (1.190, 0.82), (1.2686, 0.99), (1.539, 1.08), (1.694, 1.39), (1.927, 1.36), (2.095, 1.13),
           (2.263, 1.51), (2.658, 1.87), (2.928, 1.71), (3.330, 1.80), (3.666, 1.58), (4.038, 1.13),
           (4.363, 0.84), (4.743, 0.99), (5.223, 1.23), (5.569, 1.04), (5.938, 1.23), (6.753, 1.17),
           (7.68, 1.23), (9.32, 0.876), (10.59, 0.82), (12.05, 0.81), (13.27, 0.71), (14.81, 0.67),
           (16.10, 0.84), (17.73, 0.82), (20.16, 0.93), (26.08, 0.95), (33.72, 0.86), (50.9, 0.89)]

resp_ew = [(0.0516, 0.1), (0.100, 0.486), (0.1471, 0.69), (0.2029, 1.03), (0.2461, 0.99), (0.2985, 0.753),
           (0.3506, 0.68), (0.3988, 0.53), (0.4533, 0.53), (0.4992, 0.575), (0.5498, 0.565), (0.6053, 0.71),
           (0.6668, 0.64), (0.7343, 0.55), (0.8089, 0.65), (0.8570, 0.74), (0.9021, 0.58), (0.981, 0.653),
           (1.1155, 0.68), (1.205, 0.653), (1.310, 0.81), (1.490, 0.635), (1.641, 0.69), (1.807, 0.876),
           (2.122, 1.51), (2.337, 1.33), (2.658, 0.914), (3.023, 0.82), (3.438, 1.27), (3.666, 1.13),
           (3.988, 1.17), (4.307, 0.876), (4.834, 1.05), (5.223, 1.17), (5.569, 1.04), (6.254, 1.25),
           (6.540, 0.99), (7.202, 0.73), (8.19, 0.74), (9.02, 0.953), (10.26, 0.914), (11.67, 0.81),
           (13.27, 0.69), (15.59, 0.71), (20.16, 0.67), (26.08, 0.62), (31.6, 0.58), (37.62, 0.53),
           (43.63, 0.575), (50.9, 0.60)]

resp_ud = [(0.0586, 0.1), (0.100, 0.248), (0.1519, 0.418), (0.1990, 0.368), (0.2541, 0.283), (0.3288, 0.218),
           (0.3988, 0.196), (0.4992, 0.395), (0.5498, 0.298), (0.5937, 0.293), (0.6932, 0.436), (0.7585, 0.43),
           (0.8570, 0.527), (0.981, 0.466), (1.101, 0.454), (1.205, 0.60), (1.310, 0.59), (1.397, 0.77),
           (1.539, 0.81), (1.807, 1.13), (1.927, 1.06), (2.095, 1.08), (2.414, 0.99), (2.835, 0.937),
           (3.330, 0.937), (3.836, 0.84), (4.171, 0.96), (4.652, 0.753), (5.393, 0.953), (5.938, 0.84),
           (6.668, 0.69), (7.68, 0.72), (9.32, 0.74), (10.59, 0.753), (14.62, 0.77), (21.50, 0.79), (50.9, 0.79)]

resp_hz = [(0.0509, 0.1), (0.100, 0.507), (0.1471, 0.71), (0.2029, 1.05), (0.2461, 1.23), (0.2985, 1.23),
           (0.3506, 1.08), (0.3988, 0.876), (0.4533, 0.93), (0.5498, 0.753), (0.6053, 0.82), (0.7112, 0.71),
           (0.7585, 0.776), (0.8089, 0.753), (0.8627, 0.99), (0.9500, 1.25), (1.013, 1.04), (1.101, 0.826),
           (1.174, 0.84), (1.2686, 0.953), (1.3528, 1.05), (1.539, 1.13), (1.694, 1.51), (1.807, 1.51),
           (1.927, 1.69), (2.055, 1.60), (2.263, 1.64), (2.574, 2.03), (2.835, 1.87), (3.023, 1.58),
           (3.373, 1.95), (3.666, 1.64), (3.911, 1.64), (4.307, 1.13), (4.534, 1.30), (4.834, 1.11),
           (5.223, 1.25), (5.569, 1.17), (5.752, 1.39), (6.134, 1.23), (6.753, 1.17), (7.438, 1.28),
           (8.19, 1.23), (9.32, 0.914), (10.59, 0.914), (12.05, 0.82), (13.71, 0.876), (15.10, 0.81),
           (17.16, 0.876), (20.16, 0.953), (22.93, 0.99), (26.08, 0.97), (29.66, 0.914), (33.72, 0.876),
           (38.35, 0.89), (43.63, 0.90), (50.9, 0.91)]

# ---------------- layout helpers (pixels of a 2316x1637 canvas) ----------------
W, H, DPI = 2316, 1637, 100
X0, X1 = 107, 1328
T_END = 240
RED, GREEN, BLUE = '#ff0000', '#00b400', '#0078ff'
GRID_GRAY = '#8c8c8c'
DOTS = (0, (2, 2))

fig = plt.figure(figsize=(W / DPI, H / DPI), dpi=DPI)


def box(x0, y0, x1, y1):
    return fig.add_axes([x0 / W, 1 - y1 / H, (x1 - x0) / W, (y1 - y0) / H])


def ftext(x, y, s, **kw):
    fig.text(x / W, 1 - y / H, s, **kw)


def fline(x0, x1, y, color, lw):
    fig.add_artist(Line2D([x0 / W, x1 / W], [1 - y / H, 1 - y / H], transform=fig.transFigure,
                          color=color, lw=lw))


def wave_panel(top, bot, t, v, lim, labels, unit, title, title_y):
    ax = box(X0, top, X1, bot)
    for lv in (-lim, 0, lim):
        ax.axhline(lv, color=GRID_GRAY, lw=1.0, ls=DOTS, zorder=1, clip_on=False)
    ax.plot(t, v, color='black', lw=0.95, zorder=3, clip_on=False)
    ax.set_xlim(0, T_END)
    ax.set_ylim(-lim, lim)
    ax.set_xticks([])
    ax.set_yticks([lim, 0, -lim])
    ax.set_yticklabels(labels, fontsize=12.5)
    ax.tick_params(axis='y', direction='in', length=12, width=1.3, left=True, right=True, pad=10)
    ax.spines['top'].set_visible(False)
    ax.spines['bottom'].set_visible(False)
    for s in ('left', 'right'):
        ax.spines[s].set_linewidth(1.3)
    ax.patch.set_alpha(0)
    mid = (top + bot) / 2
    ftext(77, mid - 10, unit, fontsize=10, ha='right', va='center')
    ftext(109, title_y, title, fontsize=14.5, fontweight='bold', ha='left', va='center')
    return ax


def time_labels():
    return [f"{(s + 10) % 60:02d}" for s in range(0, T_END + 1, 10)]


def time_axis(y_line, top_side):
    if top_side:
        ax = box(X0, y_line, X1, y_line + 20)
    else:
        ax = box(X0, y_line - 20, X1, y_line)
    ax.set_xlim(0, T_END)
    ax.set_yticks([])
    for s in ('left', 'right', 'top', 'bottom'):
        ax.spines[s].set_visible(False)
    ax.spines['top' if top_side else 'bottom'].set_visible(True)
    ax.spines['top' if top_side else 'bottom'].set_linewidth(1.3)
    ax.xaxis.set_major_locator(FixedLocator(list(range(0, T_END + 1, 10))))
    ax.xaxis.set_minor_locator(FixedLocator(list(range(0, T_END + 1, 1))))
    ax.set_xticklabels(time_labels())
    if top_side:
        ax.xaxis.tick_top()
    ax.tick_params(which='major', direction='in', length=11.5, width=1.0, labelsize=14,
                   pad=11 if top_side else 6)
    ax.tick_params(which='minor', direction='in', length=5.5, width=0.8)
    ax.patch.set_alpha(0)
    return ax


def spec_panel(top, bot):
    ax = box(1404, top, 2255, bot)
    ax.set_xscale('log')
    ax.set_yscale('log')
    ax.set_xlim(0.01, 60)
    ax.set_ylim(0.1, 3000)
    ax.xaxis.set_major_locator(FixedLocator([0.01, 0.1, 1, 10]))
    ax.xaxis.set_minor_locator(LogLocator(base=10, subs=np.arange(2, 10), numticks=20))
    ax.yaxis.set_major_locator(FixedLocator([0.1, 1, 10, 100, 1000]))
    ax.yaxis.set_minor_locator(LogLocator(base=10, subs=np.arange(2, 10), numticks=20))
    ax.xaxis.set_minor_formatter(NullFormatter())
    ax.yaxis.set_minor_formatter(NullFormatter())
    ax.set_xticklabels([])
    ax.set_yticklabels([])
    ax.grid(which='major', color='black', lw=1.1, ls='-')
    ax.grid(which='minor', color=GRID_GRAY, lw=0.9, ls=DOTS)
    ax.tick_params(which='major', length=0)
    ax.tick_params(which='minor', direction='in', length=6, width=0.9,
                   top=True, bottom=True, left=True, right=True)
    for s in ax.spines.values():
        s.set_linewidth(1.3)
    xshift = ax.get_xaxis_transform() + ScaledTranslation(11 / DPI, -15 / DPI, fig.dpi_scale_trans)
    for v, lab in zip([0.01, 0.1, 1, 10], ['0.01', '0.10', '1.00', '10.00']):
        ax.text(v, 0, lab, transform=xshift, ha='center', va='center', fontsize=15)
    yshift = ax.get_yaxis_transform() + ScaledTranslation(-16 / DPI, 3 / DPI, fig.dpi_scale_trans)
    for v, lab in zip([0.1, 1, 10, 100, 1000], ['0.10', '1.00', '10.00', '100.00', '1000.00']):
        ax.text(0, v, lab, transform=yshift, ha='right', va='center', fontsize=11)
    return ax


# ---------------- header ----------------
ftext(248, 42, start_time, fontsize=19, ha='left', va='center')
ftext(948, 41, station, fontsize=23, ha='center', va='center')

time_axis(112, top_side=True)
time_axis(1541, top_side=False)

# ---------------- waveforms ----------------
acc_labels = ['18', '0', '-18']
n = min(len(acc_t), len(acc_ns), len(acc_ew), len(acc_ud))
wave_panel(165, 258, acc_t[:n], acc_ns[:n], 18, acc_labels, 'gal', '加速度NS', 160)
wave_panel(280, 371, acc_t[:n], acc_ew[:n], 18, acc_labels, 'gal', 'EW', 274)
wave_panel(393, 486, acc_t[:n], acc_ud[:n], 18, acc_labels, 'gal', 'UD', 388)

vel_labels = ['0.4', '0', '-0.4']
for (top, bot, data, title, ty) in [(547, 598, vel_ns, '速度NS', 520),
                                    (662, 713, vel_ew, 'EW', 635),
                                    (776, 827, vel_ud, 'UD', 750)]:
    t, v = np.array(data).T
    wave_panel(top, bot, t, v, 0.4, vel_labels, 'cm/sec', title, ty)

disp_labels = ['0.25', '0', '-0.25']
for (top, bot, data, title, ty) in [(907, 958, disp_ns, '変位NS', 880),
                                    (1022, 1073, disp_ew, 'EW', 995),
                                    (1136, 1187, disp_ud, 'UD', 1110)]:
    t, v = np.array(data).T
    wave_panel(top, bot, t, v, 0.25, disp_labels, 'cm', title, ty)

# ---------------- seismic intensity ----------------
axs = box(X0, 1259, X1, 1508)
for lv in range(8):
    axs.axhline(lv, color=GRID_GRAY, lw=1.0, ls=DOTS, zorder=1, clip_on=False)
st, sv = np.array(shindo).T
axs.plot(st, sv, color='black', lw=2.3, zorder=3, clip_on=False, solid_joinstyle='miter')
axs.set_xlim(0, T_END)
axs.set_ylim(0, 7)
axs.set_xticks([])
axs.set_yticks(range(8))
axs.set_yticklabels([str(i) for i in range(8)], fontsize=15.5)
axs.tick_params(axis='y', direction='in', length=12, width=1.3, left=True, right=True, pad=10)
axs.spines['top'].set_visible(False)
axs.spines['bottom'].set_visible(False)
for s in ('left', 'right'):
    axs.spines[s].set_linewidth(1.3)
axs.patch.set_alpha(0)
ftext(116, 1238, shindo_text, fontsize=19, ha='left', va='center')

# ---------------- Fourier spectrum ----------------
axf = spec_panel(129, 727)
for data, c in [(fourier_ns, RED), (fourier_ew, GREEN), (fourier_ud, BLUE)]:
    x, y = np.array(data).T
    axf.plot(x, y, color=c, lw=1.5)
ftext(1361, 88, 'cm/sec(gal·sec)', fontsize=11, ha='left', va='center')
ftext(1829, 90, 'フーリエスペクトル', fontsize=23, ha='center', va='center')
ftext(2017, 95, '0.4Hz band smoothing', fontsize=15, ha='left', va='center')
ftext(2132, 754, 'sec', fontsize=15, ha='left', va='center')
for name, x_txt, xa, xb, c in [('NS', 1665, 1700, 1756, RED), ('EW', 1792, 1826, 1882, GREEN),
                               ('UD', 1919, 1951, 2009, BLUE)]:
    ftext(x_txt, 781, name, fontsize=12, ha='left', va='center')
    fline(xa, xb, 781, c, 1.5)

# ---------------- response spectrum ----------------
axr = spec_panel(914, 1512)
for data, c, lw in [(resp_ns, RED, 1.5), (resp_ew, GREEN, 1.5), (resp_ud, BLUE, 1.5), (resp_hz, 'black', 3.0)]:
    x, y = np.array(data).T
    axr.plot(x, y, color=c, lw=lw)
ftext(1365, 873, 'cm/sec', fontsize=11, ha='left', va='center')
ftext(1829, 875, '相対速度応答スペクトル', fontsize=23, ha='center', va='center')
ftext(2183, 880, 'h=5%', fontsize=15, ha='left', va='center')
ftext(2132, 1539, 'sec', fontsize=15, ha='left', va='center')
for name, x_txt, xa, xb, c, lw in [('NS', 1585, 1616, 1673, RED, 1.5), ('EW', 1729, 1763, 1819, GREEN, 1.5),
                                   ('UD', 1875, 1907, 1965, BLUE, 1.5),
                                   ('Horizon', 1985, 2054, 2113, 'black', 3.0)]:
    ftext(x_txt, 1566, name, fontsize=12, ha='left', va='center')
    fline(xa, xb, 1566, c, lw)

fig.savefig('out.png', dpi=DPI)
